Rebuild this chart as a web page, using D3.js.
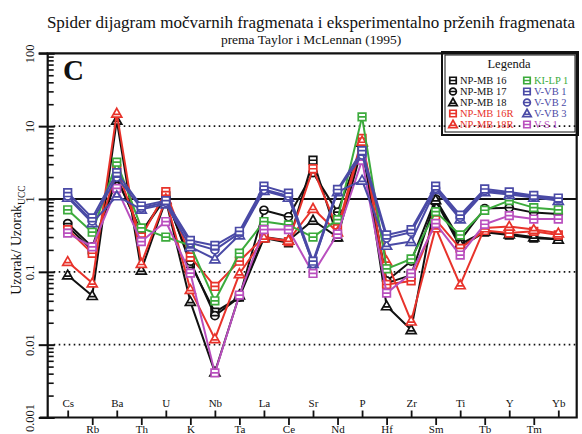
<!DOCTYPE html>
<html><head><meta charset="utf-8">
<script src="https://cdn.jsdelivr.net/npm/d3@7"></script>
<style>
body{margin:0;background:#fff}
svg{display:block}
svg text{font-family:"Liberation Serif","DejaVu Serif","Times New Roman",Times,serif !important;fill:#111}
</style>
</head><body>
<svg id="chart" width="582" height="434"></svg>
<script>
const elements = ["Cs","Rb","Ba","Th","U","K","Nb","Ta","La","Ce","Sr","Nd","P","Hf","Zr","Sm","Ti","Tb","Y","Tm","Yb"];
const yTicks = [100, 10, 1, 0.1, 0.01, 0.001];
const yTickLabels = ["100", "10", "1", "0.1", "0.01", "0.001"];

const npmb16  = [0.42, 0.20, 1.9, 0.35, 1.10, 0.13, 0.028, 0.045, 0.29, 0.25, 3.4, 0.30, 5.0, 0.070, 0.090, 0.95, 0.22, 0.35, 0.32, 0.29, 0.28];
const npmb17  = [0.46, 0.22, 2.0, 0.34, 1.05, 0.14, 0.025, 0.045, 0.70, 0.57, 2.3, 0.66, 5.5, 0.075, 0.14, 1.00, 0.27, 0.74, 0.76, 0.65, 0.62];
const npmb18  = [0.09, 0.047, 12, 0.105, 0.97, 0.039, 0.0042, 0.048, 0.30, 0.27, 0.51, 0.30, 6.0, 0.034, 0.016, 0.97, 0.24, 0.36, 0.33, 0.30, 0.28];
const npmb16r = [0.38, 0.18, 2.6, 0.30, 1.26, 0.16, 0.063, 0.14, 0.30, 0.26, 2.6, 0.39, 6.8, 0.067, 0.075, 0.52, 0.21, 0.37, 0.34, 0.36, 0.32];
const npmb18r = [0.138, 0.07, 15, 0.13, 1.00, 0.057, 0.012, 0.094, 0.29, 0.27, 0.74, 0.35, 6.2, 0.14, 0.021, 0.40, 0.066, 0.40, 0.42, 0.38, 0.34];
const kilp1   = [0.71, 0.35, 3.2, 0.40, 0.30, 0.23, 0.040, 0.18, 0.49, 0.44, 0.30, 0.52, 13.4, 0.11, 0.15, 0.67, 0.32, 0.70, 0.95, 0.76, 0.71];
const vvb1    = [1.22, 0.55, 2.3, 0.80, 0.95, 0.27, 0.23, 0.36, 1.50, 1.20, 0.14, 1.35, 4.6, 0.32, 0.38, 1.50, 0.60, 1.37, 1.25, 1.12, 1.03];
const vvb2    = [1.10, 0.50, 2.0, 0.75, 0.90, 0.25, 0.20, 0.34, 1.35, 1.10, 0.13, 1.30, 4.0, 0.29, 0.35, 1.40, 0.56, 1.30, 1.20, 1.08, 1.00];
const vvb3    = [1.05, 0.47, 1.1, 0.72, 0.85, 0.22, 0.15, 0.32, 1.30, 1.05, 0.13, 1.25, 1.8, 0.23, 0.26, 1.35, 0.53, 1.25, 1.15, 1.05, 0.95];
const vs1     = [0.34, 0.22, 1.4, 0.26, 0.49, 0.096, 0.0041, 0.048, 0.38, 0.38, 0.095, 0.33, 3.4, 0.051, 0.095, 0.46, 0.17, 0.45, 0.59, 0.53, 0.53];

const seriesNames = ["NP-MB 16","NP-MB 17","NP-MB 18","NP-MB 16R","NP-MB 18R","KI-LP 1","V-VB 1","V-VB 2","V-VB 3","V-S 1"];
const seriesValues = [npmb16, npmb17, npmb18, npmb16r, npmb18r, kilp1, vvb1, vvb2, vvb3, vs1];

// styles (kept apart from data)
const BLACK = "#111111", RED = "#e8332b", GREEN = "#3cab3c", BLUE = "#4a4aa6", MAG = "#b94fbe";
const seriesColor = [BLACK, BLACK, BLACK, RED, RED, GREEN, BLUE, BLUE, BLUE, MAG];
const seriesShape = ["square","circle","triangle","square","triangle","square","square","circle","triangle","square"];
const SERIF = "'Liberation Serif','DejaVu Serif','Times New Roman',Times,serif";

const svg = d3.select("#chart");
const X0 = 47.7, X1 = 576.7, Y0 = 53.3, Y1 = 417.5;

const x = d3.scalePoint().domain(elements).range([67.7, 558.3]);
const y = d3.scaleLog().domain([0.001, 100]).range([Y1, Y0]);

// title
svg.append("text").attr("x", 311).attr("y", 28).attr("text-anchor", "middle").attr("font-family", SERIF)
  .style("font-size", "17px").text("Spider dijagram močvarnih fragmenata i eksperimentalno prženih fragmenata");
svg.append("text").attr("x", 311).attr("y", 44).attr("text-anchor", "middle").attr("font-family", SERIF)
  .style("font-size", "13.5px").text("prema Taylor i McLennan (1995)");

// grid lines
[10, 0.1, 0.01].forEach(v => {
  svg.append("line").attr("x1", X0 + 6).attr("x2", X1).attr("y1", y(v)).attr("y2", y(v))
    .attr("stroke", "#111").attr("stroke-width", 1.7).attr("stroke-dasharray", "1.6,3.4");
});
svg.append("line").attr("x1", X0).attr("x2", X1).attr("y1", y(1)).attr("y2", y(1))
  .attr("stroke", "#111").attr("stroke-width", 2);

// y axis: major ticks + rotated labels
const yAxis = svg.append("g").attr("transform", `translate(${X0},0)`)
  .call(d3.axisLeft(y).tickValues(yTicks).tickSize(9).tickFormat((d, i) => yTickLabels[i]));
yAxis.attr("font-family", SERIF);
yAxis.select(".domain").remove();
yAxis.selectAll(".tick line").attr("x1", 7).attr("x2", -9).attr("stroke", "#111").attr("stroke-width", 2);
yAxis.selectAll(".tick text").attr("x", null).attr("dy", null)
  .attr("transform", "translate(-14,0) rotate(-90)").attr("text-anchor", "middle")
  .style("font-size", "12.5px").attr("fill", "#111");

// minor ticks
const minor = [];
for (let e = -3; e < 2; e++) for (let k = 2; k <= 9; k++) minor.push(k * Math.pow(10, e));
const yMinor = svg.append("g").attr("transform", `translate(${X0},0)`)
  .call(d3.axisRight(y).tickValues(minor).tickSize(6).tickFormat(""));
yMinor.select(".domain").remove();
yMinor.selectAll(".tick line").attr("stroke", "#111").attr("stroke-width", 1.6);

// x axes (two staggered rows)
const even = elements.filter((d, i) => i % 2 === 0);
const odd = elements.filter((d, i) => i % 2 === 1);
const xTop = svg.append("g").attr("transform", `translate(0,${Y1})`)
  .call(d3.axisTop(x).tickValues(even).tickSize(7).tickPadding(3.5));
const xBot = svg.append("g").attr("transform", `translate(0,${Y1})`)
  .call(d3.axisBottom(x).tickValues(odd).tickSize(7.5).tickPadding(0));
[xTop, xBot].forEach(g => {
  g.attr("font-family", SERIF);
  g.select(".domain").remove();
  g.selectAll(".tick line").attr("stroke", "#111").attr("stroke-width", 1.8);
  g.selectAll(".tick text").style("font-size", "11px").attr("fill", "#111");
});

// frame
svg.append("path").attr("d", `M${X0},${Y1}V${Y0}H${X1}V${Y1}H${X0 - 8}`)
  .attr("fill", "none").attr("stroke", "#111").attr("stroke-width", 2.2);
svg.append("line").attr("x1", X0 - 9).attr("x2", X0).attr("y1", Y0).attr("y2", Y0).attr("stroke", "#111").attr("stroke-width", 2);

// y axis title
const yt = svg.append("text").attr("transform", "translate(21,240) rotate(-90)").attr("text-anchor", "middle")
  .attr("font-family", SERIF).style("font-size", "14px");
yt.append("tspan").text("Uzorak/ Uzorak");
yt.append("tspan").attr("dy", 4).style("font-size", "9.5px").text("UCC");

// panel letter
svg.append("text").attr("x", 63).attr("y", 80).attr("font-family", SERIF)
  .style("font-size", "29px").style("font-weight", "bold").text("C");

// markers
function markerPath(shape) {
  if (shape === "square") return "M-3.8,-3.8H3.8V3.8H-3.8Z M-3.8,0H3.8";
  if (shape === "circle") return "M-4,0A4,4 0 1,0 4,0A4,4 0 1,0 -4,0Z M-4,0H4";
  return "M0,-5L5,3.8H-5Z M-2.8,1H2.8";
}

const line = d3.line().x((d, i) => x(elements[i])).y(d => y(d));
const drawOrder = [0, 1, 2, 3, 4, 5, 9, 8, 7, 6];
drawOrder.forEach(si => {
  const g = svg.append("g");
  g.append("path").attr("d", line(seriesValues[si])).attr("fill", "none")
    .attr("stroke", seriesColor[si]).attr("stroke-width", 2).attr("stroke-linejoin", "round");
  g.selectAll("path.m").data(seriesValues[si]).join("path").attr("class", "m")
    .attr("d", markerPath(seriesShape[si]))
    .attr("transform", (d, i) => `translate(${x(elements[i])},${y(d)})`)
    .attr("fill", "#fff").attr("stroke", seriesColor[si]).attr("stroke-width", 1.7);
});

// legend
const lg = svg.append("g").attr("font-family", SERIF);
lg.append("rect").attr("x", 442).attr("y", 52).attr("width", 136).attr("height", 83)
  .attr("fill", "none").attr("stroke", "#111").attr("stroke-width", 2);
lg.append("rect").attr("x", 445).attr("y", 55).attr("width", 130).attr("height", 77)
  .attr("fill", "none").attr("stroke", "#111").attr("stroke-width", 1);
lg.append("text").attr("x", 509).attr("y", 68).attr("text-anchor", "middle").style("font-size", "12.5px").text("Legenda");
seriesNames.forEach((name, i) => {
  const col = i < 5 ? 0 : 1, row = i % 5;
  const mx = col === 0 ? 453 : 527, ty = 84 + row * 11;
  lg.append("path").attr("d", markerPath(seriesShape[i]))
    .attr("transform", `translate(${mx},${ty - 3.5}) scale(0.85)`)
    .attr("fill", "#fff").attr("stroke", seriesColor[i]).attr("stroke-width", 2);
  lg.append("text").attr("x", mx + 7).attr("y", ty).style("font-size", "10.5px")
    .style("fill", seriesColor[i]).text(name);
});
</script>
</body></html>
